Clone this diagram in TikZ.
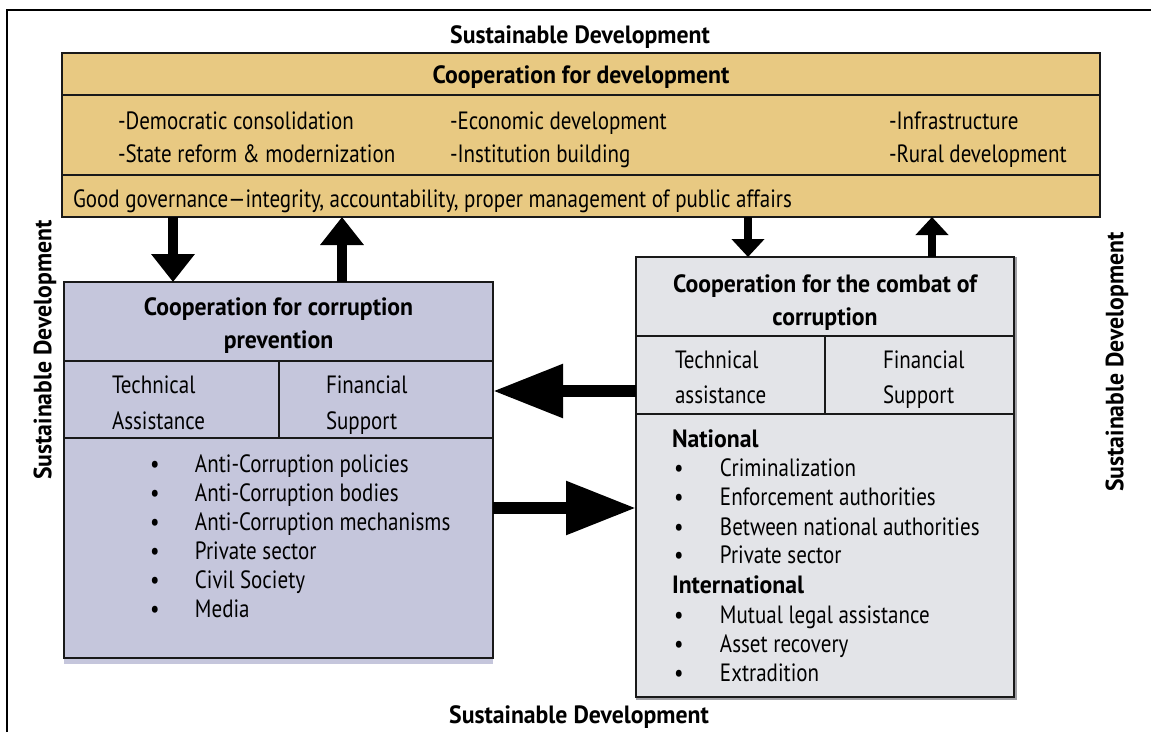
\documentclass[tikz,border=0pt]{standalone}
\usepackage{fontspec}
\setmainfont{PT Sans}[FakeStretch=0.84]
\newfontfamily\headfam{PT Sans}[FakeStretch=0.95]
\usetikzlibrary{arrows.meta}
\definecolor{goldfill}{RGB}{232,201,130}
\definecolor{lavfill}{RGB}{197,198,220}
\definecolor{grayfill}{RGB}{227,228,232}
\definecolor{shadowgray}{RGB}{160,160,165}
\definecolor{edge}{RGB}{25,25,25}
\begin{document}
\begin{tikzpicture}[x=1pt,y=-1pt,
  box/.style={draw=edge, line width=2.6pt, rectangle, inner sep=0pt, outer sep=0pt, anchor=north west},
  shadowbox/.style={draw=none, rectangle, inner sep=0pt, outer sep=0pt, anchor=north west},
  divider/.style={draw=edge, line width=2.6pt},
  txt/.style={inner sep=0pt, outer sep=0pt, anchor=base west, font=\fontsize{25}{29}\selectfont},
  ctxt/.style={txt, anchor=base},
  btxt/.style={ctxt, font=\fontsize{25}{29}\headfam\bfseries},
  bltxt/.style={txt, font=\fontsize{25}{29}\headfam\bfseries},
  sdtxt/.style={inner sep=0pt, outer sep=0pt, font=\fontsize{25}{29}\headfam\bfseries},
  frame/.style={draw=black, line width=2.6pt},
  vtall/.style={draw=black, line width=10pt, -{Triangle[length=28pt,width=42pt]}},
  vshort/.style={draw=black, line width=8pt, -{Triangle[length=18pt,width=32pt]}},
  harrow/.style={draw=black, line width=12pt, -{Triangle[length=70pt,width=51pt]}}
]
\useasboundingbox (0,0) rectangle (1151,732);

% outer frame (clipped)
\coordinate (fTL) at (7,10);
\coordinate (fTR) at (1151,10);
\coordinate (fBL) at (7,732);
\draw[frame] (fBL) -- (fTL) -- (fTR);

% shadows
\node[shadowbox, fill=lavfill, minimum width=429pt, minimum height=380pt] (lshadow) at (64,284) {};
\node[shadowbox, fill=shadowgray, minimum width=381pt, minimum height=443pt] (rshadow) at (636,257) {};

% boxes
\node[box, fill=goldfill, minimum width=1038pt, minimum height=164pt] (gold) at (62,53) {};
\node[box, fill=lavfill, minimum width=429pt, minimum height=376pt] (lbox) at (64,282) {};
\node[box, fill=grayfill, minimum width=378pt, minimum height=440pt] (rbox) at (636,257) {};

% divider levels
\coordinate (g1) at (0,95);
\coordinate (g2) at (0,175);
\coordinate (l1) at (0,361);
\coordinate (l2) at (0,438);
\coordinate (lv) at (279,0);
\coordinate (r1) at (0,336);
\coordinate (r2) at (0,414);
\coordinate (rv) at (825,0);
\draw[divider] (gold.west |- g1) -- (gold.east |- g1);
\draw[divider] (gold.west |- g2) -- (gold.east |- g2);
\draw[divider] (lbox.west |- l1) -- (lbox.east |- l1);
\draw[divider] (lbox.west |- l2) -- (lbox.east |- l2);
\draw[divider] (lv |- l1) -- (lv |- l2);
\draw[divider] (rbox.west |- r1) -- (rbox.east |- r1);
\draw[divider] (rbox.west |- r2) -- (rbox.east |- r2);
\draw[divider] (rv |- r1) -- (rv |- r2);

% Sustainable Development labels
\node[sdtxt, anchor=base] (sdtop) at (580,43) {Sustainable Development};
\node[sdtxt, anchor=base] (sdbot) at (579,723) {Sustainable Development};
\node[sdtxt, rotate=90] (sdleft) at (45,350) {Sustainable Development};
\node[sdtxt, rotate=90] (sdright) at (1117,362) {Sustainable Development};

% gold box texts
\node[btxt] (gtitle) at (581,83) {Cooperation for development};
\node[txt] (ga1) at (118,129) {-Democratic consolidation};
\node[txt] (ga2) at (118,162) {-State reform \& modernization};
\node[txt] (gb1) at (450,129) {-Economic development};
\node[txt] (gb2) at (450,162) {-Institution building};
\node[txt] (gc1) at (889,129) {-Infrastructure};
\node[txt] (gc2) at (889,162) {-Rural development};
\node[txt] (ggov) at (73,207) {Good governance---integrity, accountability, proper management of public affairs};

% left box texts
\node[btxt] (ltitle1) at (278.5,315) {Cooperation for corruption};
\node[btxt] (ltitle2) at (278.5,348) {prevention};
\node[txt] (lta) at (112,393) {Technical};
\node[txt] (ltb) at (112,429) {Assistance};
\node[txt] (lfa) at (326,393) {Financial};
\node[txt] (lfb) at (326,429) {Support};
\node[txt] (lb1) at (150,472) {\makebox[45pt][l]{\textbullet}Anti-Corruption policies};
\node[txt] (lb2) at (150,501) {\makebox[45pt][l]{\textbullet}Anti-Corruption bodies};
\node[txt] (lb3) at (150,530) {\makebox[45pt][l]{\textbullet}Anti-Corruption mechanisms};
\node[txt] (lb4) at (150,559) {\makebox[45pt][l]{\textbullet}Private sector};
\node[txt] (lb5) at (150,588) {\makebox[45pt][l]{\textbullet}Civil Society};
\node[txt] (lb6) at (150,617) {\makebox[45pt][l]{\textbullet}Media};

% right box texts
\node[btxt] (rtitle1) at (825,292) {Cooperation for the combat of};
\node[btxt] (rtitle2) at (825,325) {corruption};
\node[txt] (rta) at (675,368) {Technical};
\node[txt] (rtb) at (675,403) {assistance};
\node[txt] (rfa) at (883,368) {Financial};
\node[txt] (rfb) at (883,403) {Support};
\node[bltxt] (rnat) at (672,447) {National};
\node[txt] (rb1) at (674,476) {\makebox[46pt][l]{\textbullet}Criminalization};
\node[txt] (rb2) at (674,505) {\makebox[46pt][l]{\textbullet}Enforcement authorities};
\node[txt] (rb3) at (674,535) {\makebox[46pt][l]{\textbullet}Between national authorities};
\node[txt] (rb4) at (674,563) {\makebox[46pt][l]{\textbullet}Private sector};
\node[bltxt] (rint) at (672,593) {International};
\node[txt] (rb5) at (674,623) {\makebox[46pt][l]{\textbullet}Mutual legal assistance};
\node[txt] (rb6) at (674,652) {\makebox[46pt][l]{\textbullet}Asset recovery};
\node[txt] (rb7) at (674,681) {\makebox[46pt][l]{\textbullet}Extradition};

% arrows
\coordinate (xa) at (173,0);
\coordinate (xb) at (342,0);
\coordinate (xc) at (748,0);
\coordinate (xd) at (932,0);
\coordinate (ya) at (0,391);
\coordinate (yb) at (0,508);
\draw[vtall] (gold.south -| xa) -- (lbox.north -| xa);
\draw[vtall] (lbox.north -| xb) -- (gold.south -| xb);
\draw[vshort] (gold.south -| xc) -- (rbox.north -| xc);
\draw[vshort] (rbox.north -| xd) -- (gold.south -| xd);
\draw[harrow] (rbox.west |- ya) -- (lbox.east |- ya);
\draw[harrow] (lbox.east |- yb) -- (rbox.west |- yb);
\end{tikzpicture}
\end{document}
